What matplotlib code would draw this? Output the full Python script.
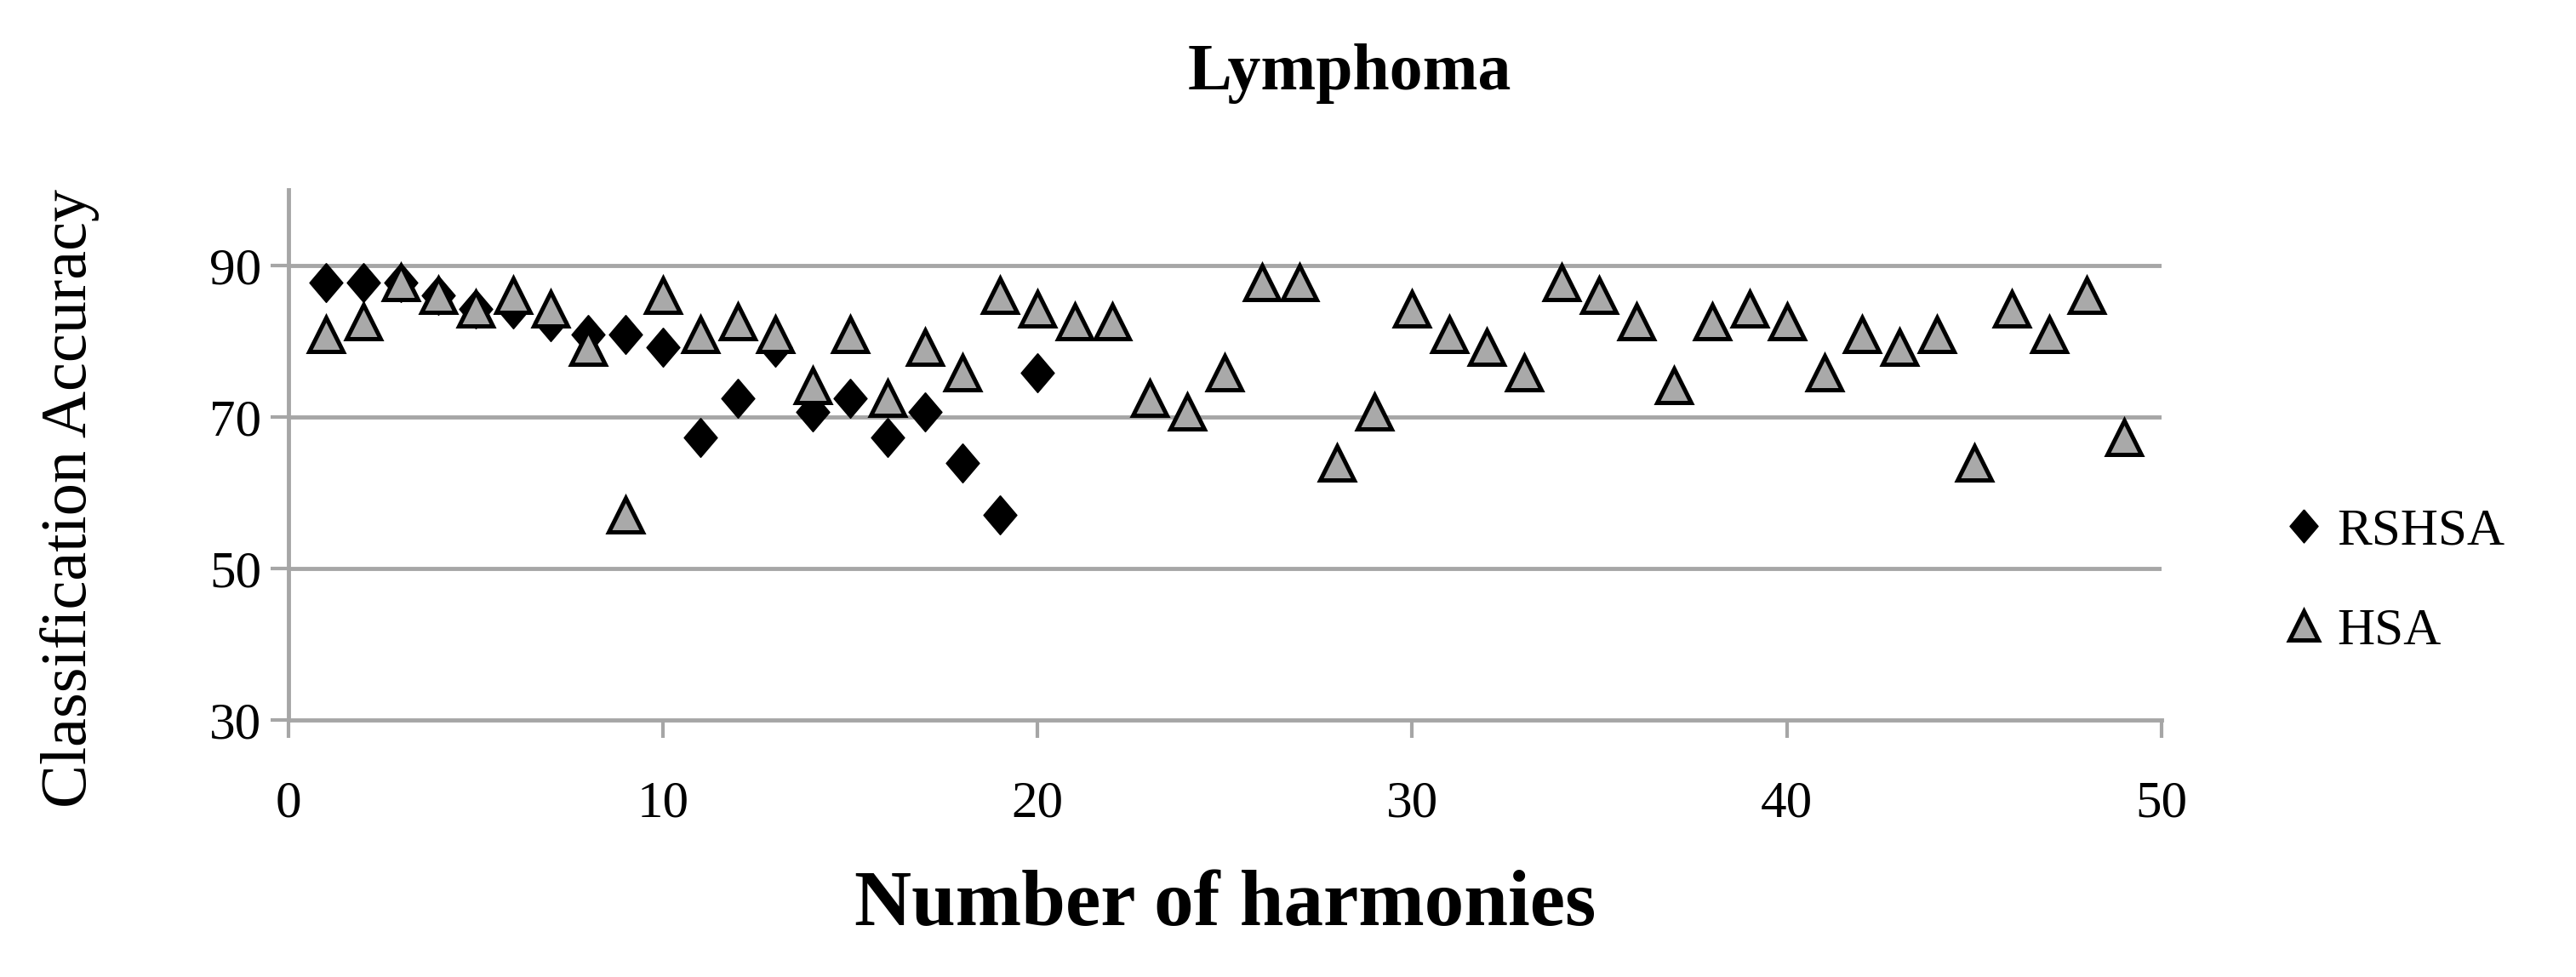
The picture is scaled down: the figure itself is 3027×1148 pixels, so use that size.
import matplotlib.pyplot as plt
import numpy as np

plt.rcParams['font.family'] = ['Liberation Serif', 'DejaVu Serif']

# values
harm_rshsa = list(range(1, 21))
acc_rshsa = [87.7, 87.7, 87.7, 86.0, 84.3, 84.3, 82.6, 80.9, 80.9, 79.2,
             67.3, 72.4, 79.2, 70.7, 72.4, 67.3, 70.7, 63.9, 57.1, 75.8]

harm_hsa = list(range(1, 50))
acc_hsa = [80.9, 82.6, 87.7, 86.0, 84.3, 86.0, 84.3, 79.2, 57.1, 86.0,
           80.9, 82.6, 80.9, 74.1, 80.9, 72.4, 79.2, 75.8, 86.0, 84.3,
           82.6, 82.6, 72.4, 70.7, 75.8, 87.7, 87.7, 63.9, 70.7, 84.3,
           80.9, 79.2, 75.8, 87.7, 86.0, 82.6, 74.1, 82.6, 84.3, 82.6,
           75.8, 80.9, 79.2, 80.9, 63.9, 84.3, 80.9, 86.0, 67.3]

xticks = [0, 10, 20, 30, 40, 50]
yticks = [30, 50, 70, 90]

# slightly tall diamond like the excel one
diamond = [(0, 1), (0.85, 0), (0, -1), (-0.85, 0), (0, 1)]

fig = plt.figure(figsize=(30.27, 11.48), dpi=100)
ax = fig.add_axes([0.112, 0.263, 0.727, 0.543])

grid_col = '#a6a6a6'
for y in yticks[1:]:
    ax.axhline(y, color=grid_col, lw=3.5, zorder=1)

ax.plot(harm_rshsa, acc_rshsa, linestyle='none', marker=diamond, ms=33,
        color='black', mec='black', mew=1, label='RSHSA', zorder=3)
ax.plot(harm_hsa, acc_hsa, linestyle='none', marker='^', ms=29,
        mfc='#a9a9a9', mec='black', mew=3.6, label='HSA', zorder=4)

ax.set_xlim(0, 50)
ax.set_ylim(30, 100)
ax.set_xticks(xticks)
ax.set_yticks(yticks)

for s in ['top', 'right']:
    ax.spines[s].set_visible(False)
for s in ['left', 'bottom']:
    ax.spines[s].set_color(grid_col)
    ax.spines[s].set_linewidth(3.5)

ax.tick_params(axis='both', direction='out', length=15, width=3, color=grid_col,
               labelsize=44)
ax.tick_params(axis='x', pad=36)
ax.tick_params(axis='y', pad=8)

ax.set_xlabel('Number of harmonies', fontsize=67, fontweight='bold', labelpad=36)
fig.text(0.027, 0.49, 'Classification Accuracy', rotation=90, fontsize=55,
         ha='center', va='center')
fig.text(0.524, 0.925, 'Lymphoma', fontsize=56, fontweight='bold',
         ha='center', va='center')

fig.legend(loc='center left', bbox_to_anchor=(0.866, 0.405), frameon=False,
           fontsize=44, handletextpad=0.15, labelspacing=1.0, markerscale=0.85,
           handlelength=1.0)

fig.savefig('out.png', dpi=100)
